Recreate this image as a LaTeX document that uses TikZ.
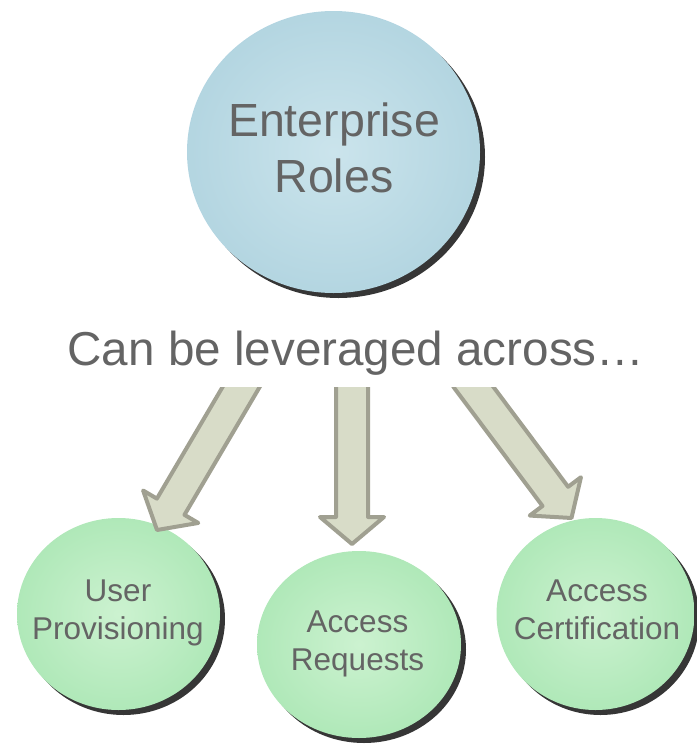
\documentclass[tikz,border=0pt]{standalone}
\usepackage{fontspec}
\setmainfont{Liberation Sans}
\usetikzlibrary{calc,shapes.geometric,shadows}
\definecolor{txtc}{HTML}{646464}
\definecolor{bluein}{HTML}{CBE4EC}
\definecolor{blueout}{HTML}{A9CFDC}
\definecolor{greenin}{HTML}{CCF2D0}
\definecolor{greenout}{HTML}{A3E4AE}
\definecolor{shadowc}{HTML}{363636}
\definecolor{arrfill}{HTML}{D8DCC8}
\definecolor{arrline}{HTML}{A0A091}
\pgfdeclareradialshading{bluesh}{\pgfpoint{0bp}{0bp}}{color(0bp)=(bluein); color(36bp)=(blueout); color(50bp)=(blueout)}
\pgfdeclareradialshading{greensh}{\pgfpoint{0bp}{0bp}}{color(0bp)=(greenin); color(36bp)=(greenout); color(50bp)=(greenout)}
\tikzset{
  bubble/.style={ellipse, inner sep=0pt, draw=none,
    drop shadow={shadow xshift=5pt, shadow yshift=-5pt, fill=shadowc, opacity=1}},
  bigbubble/.style={bubble, shading=bluesh},
  smallbubble/.style={bubble, shading=greensh},
  blockarr/.style={fill=arrfill, draw=arrline, line width=4pt, line join=round},
  bigtxt/.style={text=txtc, font=\fontsize{46.5}{56}\selectfont, align=center, inner sep=0pt},
  midtxt/.style={text=txtc, font=\fontsize{47.6}{56}\selectfont, inner sep=0pt},
  smalltxt/.style={text=txtc, font=\fontsize{31.5}{38}\selectfont, align=center, inner sep=0pt}
}
\newcommand\blockarrow[2]{%
  \coordinate (#1hb) at ($(#2)!27pt!(#1)$);
  \path[blockarr] ($(#1)!16pt!90:(#2)$) -- ($(#1hb)!16pt!90:(#2)$) -- ($(#1hb)!32pt!90:(#2)$)
    -- (#2) -- ($(#1hb)!32pt!-90:(#2)$) -- ($(#1hb)!16pt!-90:(#2)$) -- ($(#1)!16pt!-90:(#2)$) -- cycle;
}
\begin{document}
\begin{tikzpicture}[x=1pt,y=-1pt]
\useasboundingbox (0,0) rectangle (696,744);
% bubbles
\node[bigbubble, minimum width=293, minimum height=282] (roles) at (333.5,152) {};
\node[smallbubble, minimum width=203, minimum height=192] (prov) at (118.5,614) {};
\node[smallbubble, minimum width=204, minimum height=187] (req) at (359,644.5) {};
\node[smallbubble, minimum width=198, minimum height=192] (cert) at (595.5,614) {};
% arrows
\coordinate (la) at (247,377);
\coordinate (lt) at (157,530);
\coordinate (ma) at (352,377);
\coordinate (mt) at (352,544);
\coordinate (ra) at (466,377);
\coordinate (rt) at (571.5,518);
\begin{scope}
  \clip (0,387) rectangle (696,744);
  \blockarrow{la}{lt}
  \blockarrow{ma}{mt}
  \blockarrow{ra}{rt}
\end{scope}
% texts
\node[bigtxt] (rolestxt) at (334,147.5) {Enterprise\\Roles};
\node[midtxt, anchor=base] (lever) at (356,365) {Can be leveraged across…};
\node[smalltxt] (provtxt) at (118,613.3) {User\\Provisioning};
\node[smalltxt] (reqtxt) at (357.5,643.8) {Access\\Requests};
\node[smalltxt] (certtxt) at (597,610) {Access\\Certification};
\end{tikzpicture}
\end{document}
